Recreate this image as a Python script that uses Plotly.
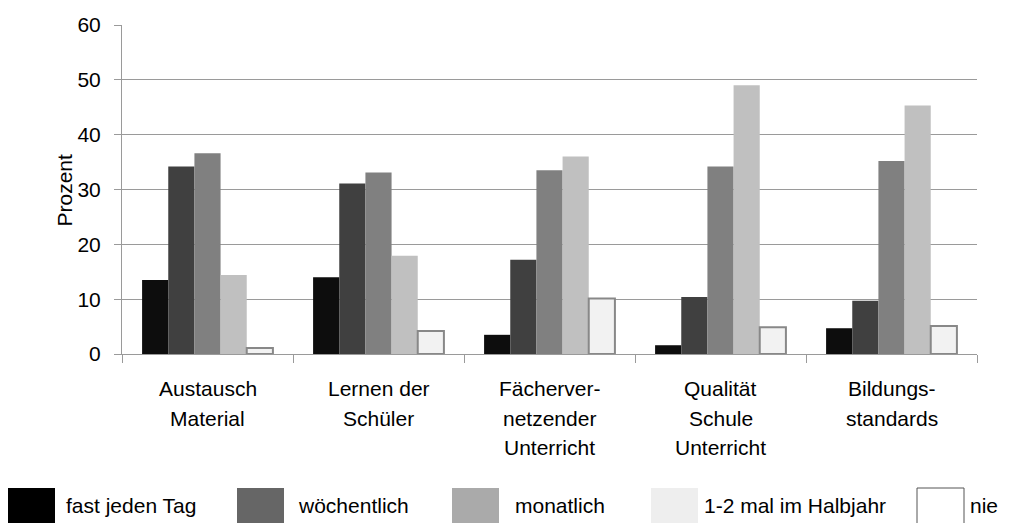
import plotly.graph_objects as go

# categories (each line of the label separately)
categories = ["Austausch Material", "Lernen der Schüler", "Fächervernetzender Unterricht",
              "Qualität Schule Unterricht", "Bildungsstandards"]
cat_lines = [["Austausch", "Material"], ["Lernen der", "Schüler"],
             ["Fächerver-", "netzender", "Unterricht"], ["Qualität", "Schule", "Unterricht"],
             ["Bildungs-", "standards"]]

series = ["fast jeden Tag", "wöchentlich", "monatlich", "1-2 mal im Halbjahr", "nie"]
fast_jeden_tag = [13.5, 14.0, 3.5, 1.6, 4.7]
woechentlich = [34.2, 31.1, 17.2, 10.4, 9.7]
monatlich = [36.6, 33.1, 33.5, 34.2, 35.2]
halbjahr = [14.4, 17.9, 36.0, 49.0, 45.3]
nie = [1.1, 4.2, 10.1, 4.9, 5.1]
values = [fast_jeden_tag, woechentlich, monatlich, halbjahr, nie]

y_ticks = [0, 10, 20, 30, 40, 50, 60]

bar_colors = ["#0d0d0d", "#404040", "#808080", "#c0c0c0", "#f2f2f2"]
legend_colors = ["#000000", "#666666", "#aaaaaa", "#eeeeee", "#ffffff"]

FONT = "Liberation Sans, Arial, sans-serif"

# page offsets the figure by the body margin
OFF = 8
W, H = 1010 - OFF, 523 - OFF
# plot area in screen pixels: x 122..977, y 25..354
L, R, T, B = 122 - OFF, 1010 - 977, 25 - OFF, 523 - 354
pw, ph = W - L - R, H - T - B


def px_x(x):
    return (x - OFF - L) / pw


def px_y(y):
    return (H - B - (y - OFF)) / ph


fig = go.Figure()
for name, vals, col in zip(series, values, bar_colors):
    fig.add_trace(go.Bar(
        x=categories, y=vals, name=name, marker_color=col,
        marker_line=dict(color="#888888" if name == "nie" else col,
                         width=2 if name == "nie" else 0),
        showlegend=False))

fig.update_layout(
    width=W, height=H,
    margin=dict(l=L, r=R, t=T, b=B, autoexpand=False),
    barmode="group", bargap=0.235, bargroupgap=0,
    plot_bgcolor="white", paper_bgcolor="white",
    font=dict(family=FONT, size=21, color="#000000"),
)
fig.update_yaxes(range=[0, 60], tickvals=y_ticks, showgrid=True, gridcolor="#9a9a9a",
                 gridwidth=1, showline=True, linecolor="#9a9a9a", linewidth=1,
                 ticks="outside", ticklen=7, tickcolor="#9a9a9a", ticklabelstandoff=9,
                 tickfont=dict(size=21), zeroline=False, automargin=False)
fig.update_xaxes(showticklabels=False, showline=True, linecolor="#9a9a9a", linewidth=1,
                 ticks="outside", tickson="boundaries", ticklen=8, tickcolor="#9a9a9a",
                 automargin=False)

annotations = []
# y title
annotations.append(dict(text="Prozent", xref="paper", yref="paper", x=px_x(50), y=px_y(190),
                        textangle=-90, showarrow=False, font=dict(size=21)))
# category labels, one line at a time
for cat, lines in zip(categories, cat_lines):
    for i, line in enumerate(lines):
        annotations.append(dict(text=line, xref="x", yref="paper", x=cat, y=px_y(388 + 30 * i),
                                showarrow=False, font=dict(size=21), xanchor="center",
                                yanchor="middle"))

# legend drawn by hand (its swatches differ from the bar shades)
sw_x = [8, 237, 452, 651, 917]
txt_x = [66, 298, 515, 704, 970]
shapes = []
for name, col, sx, tx in zip(series, legend_colors, sw_x, txt_x):
    shapes.append(dict(type="rect", xref="paper", yref="paper",
                       x0=px_x(sx), x1=px_x(sx + 47), y0=px_y(488), y1=px_y(530),
                       fillcolor=col,
                       line=dict(color="#555555" if name == "nie" else col,
                                 width=1 if name == "nie" else 0)))
    annotations.append(dict(text=name, xref="paper", yref="paper", x=px_x(tx - 2), y=px_y(505),
                            xanchor="left", yanchor="middle", showarrow=False,
                            font=dict(size=21)))

fig.update_layout(annotations=annotations, shapes=shapes)

fig.write_html("out.html")
